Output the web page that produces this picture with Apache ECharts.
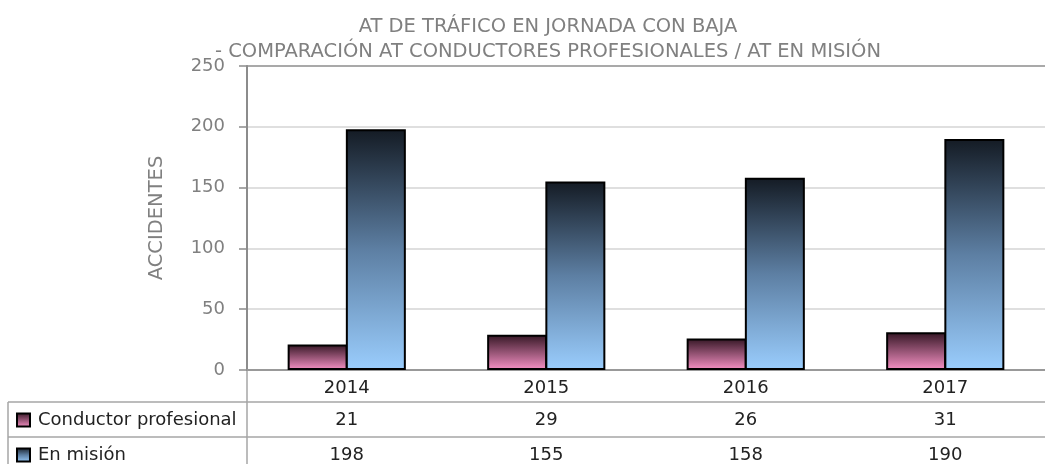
<!DOCTYPE html>
<html>
<head>
<meta charset="utf-8">
<script src="https://cdn.jsdelivr.net/npm/echarts@6/dist/echarts.min.js"></script>
<style>
  html, body { margin: 0; padding: 0; background: #fff; }
  #chart { width: 1045px; height: 464px; }
</style>
</head>
<body>
<div id="chart"></div>
<script>
const years = ['2014', '2015', '2016', '2017'];
const conductorProfesional = [21, 29, 26, 31];
const enMision = [198, 155, 158, 190];
const yTicks = [0, 50, 100, 150, 200, 250];

const FONT = 'DejaVu Sans';
const chart = echarts.init(document.getElementById('chart'));

// degradados de las barras
const pinkFill = new echarts.graphic.LinearGradient(0, 0, 0, 1, [
  { offset: 0, color: '#341624' },
  { offset: 1, color: '#f892c6' },
]);
const blueFill = new echarts.graphic.LinearGradient(0, 0, 0, 1, [
  { offset: 0, color: '#141b24' },
  { offset: 0.5, color: '#5d7fa3' },
  { offset: 1, color: '#9acdfd' },
]);

// filas de la tabla de datos como ejes extra
const tableAxis = (values, offset) => ({
  type: 'category',
  position: 'bottom',
  offset: offset,
  data: values.map(String),
  axisLine: { show: true, lineStyle: { color: '#a6a6a6', width: 1.5 } },
  axisTick: { show: false },
  axisLabel: { margin: 9, fontFamily: FONT, fontSize: 18, color: '#222' },
});

const legendRow = (name, top) => ({
  data: [name],
  left: 16,
  top: top,
  padding: 0,
  icon: 'rect',
  itemWidth: 13,
  itemHeight: 13,
  selectedMode: false,
  itemStyle: { borderColor: '#000', borderWidth: 2 },
  textStyle: { fontFamily: FONT, fontSize: 18, color: '#222', padding: [0, 0, 0, 3] },
});

const option = {
  animation: false,
  title: {
    text: 'AT DE TRÁFICO EN JORNADA CON BAJA\n- COMPARACIÓN AT CONDUCTORES PROFESIONALES / AT EN MISIÓN',
    left: 548,
    top: 14,
    textAlign: 'center',
    padding: 0,
    textStyle: { fontFamily: FONT, fontSize: 19.5, fontWeight: 'normal', color: '#808080', lineHeight: 25 },
  },
  legend: [
    legendRow('Conductor profesional', 411),
    legendRow('En misión', 446),
  ],
  grid: { left: 247, right: 0, top: 66, bottom: 94 },
  xAxis: [
    {
      type: 'category',
      data: years,
      axisLine: { lineStyle: { color: '#999', width: 2 } },
      axisTick: { show: false },
      axisLabel: { margin: 9, fontFamily: FONT, fontSize: 18, color: '#222' },
    },
    tableAxis(conductorProfesional, 32),
    tableAxis(enMision, 67),
  ],
  yAxis: {
    type: 'value',
    min: yTicks[0],
    max: yTicks[yTicks.length - 1],
    interval: 50,
    name: 'ACCIDENTES',
    nameLocation: 'middle',
    nameGap: 80,
    nameTextStyle: { fontFamily: FONT, fontSize: 19.5, color: '#808080' },
    axisLine: { show: true, lineStyle: { color: '#8c8c8c', width: 2 } },
    axisTick: { show: true, length: 8, lineStyle: { color: '#8c8c8c', width: 1.5 } },
    axisLabel: { margin: 22, fontFamily: FONT, fontSize: 18, color: '#808080' },
    splitLine: {
      lineStyle: { color: ['#d4d4d4', '#d4d4d4', '#d4d4d4', '#d4d4d4', '#d4d4d4', '#8c8c8c'], width: 1.5 },
    },
  },
  series: [
    {
      name: 'Conductor profesional',
      type: 'bar',
      data: conductorProfesional,
      barWidth: 60,
      barGap: '-3%',
      itemStyle: { color: pinkFill, borderColor: '#000', borderWidth: 2 },
    },
    {
      name: 'En misión',
      type: 'bar',
      data: enMision,
      barWidth: 60,
      barGap: '-3%',
      itemStyle: { color: blueFill, borderColor: '#000', borderWidth: 2 },
    },
  ],
  // marco de la tabla a la izquierda del area del grafico
  graphic: [
    { type: 'line', shape: { x1: 8, y1: 402, x2: 247, y2: 402 }, style: { stroke: '#a6a6a6', lineWidth: 1.5 } },
    { type: 'line', shape: { x1: 8, y1: 437, x2: 247, y2: 437 }, style: { stroke: '#a6a6a6', lineWidth: 1.5 } },
    { type: 'line', shape: { x1: 8, y1: 402, x2: 8, y2: 464 }, style: { stroke: '#a6a6a6', lineWidth: 1.5 } },
    { type: 'line', shape: { x1: 247, y1: 370, x2: 247, y2: 464 }, style: { stroke: '#a6a6a6', lineWidth: 1.5 } },
  ],
};

chart.setOption(option);
</script>
</body>
</html>
